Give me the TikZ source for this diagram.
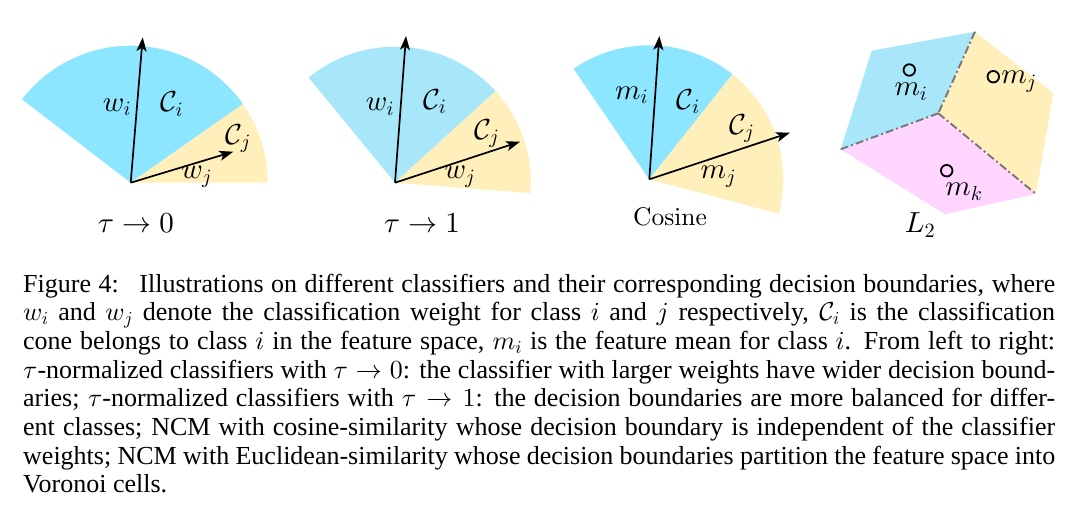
\documentclass[tikz,border=0pt]{standalone}
\usepackage{fontspec}
\DeclareFontShape{OML}{cmm}{m}{it}{<->cmmi10}{}
\DeclareFontShape{OMS}{cmsy}{m}{n}{<->cmsy10}{}
\DeclareFontShape{OT1}{cmr}{m}{n}{<->cmr10}{}
\newfontfamily\capfont{Liberation Serif}
\newcommand\cmten{\fontencoding{OT1}\fontfamily{cmr}\selectfont}
\usetikzlibrary{arrows.meta}
\definecolor{cyanA}{HTML}{8CE6FF}
\definecolor{cyanB}{HTML}{A8E6FA}
\definecolor{yel}{HTML}{FFEFBB}
\definecolor{pnk}{HTML}{FFD6FF}
\definecolor{bdry}{HTML}{777777}
\begin{document}
\begin{tikzpicture}[x=1pt,y=1pt,
 vec/.style={line width=1.7pt,-{Stealth[length=14pt,width=10pt,inset=3.5pt]}},
 lab/.style={font=\fontsize{29}{34}\selectfont, inner sep=0pt},
 capline/.style={anchor=base west, inner sep=0pt, text height=18pt, text depth=5pt, font=\capfont\fontsize{26}{30}\selectfont},
 bnd/.style={bdry, line width=1.9pt, dash pattern=on 8pt off 3pt on 2pt off 3pt},
 mean/.style={circle, draw, line width=1.8pt, minimum size=11.5pt, inner sep=0pt}]
\useasboundingbox (0,0) rectangle (1074,515);

% ---------- diagram 1: tau -> 0
\coordinate (o1) at (130.7,332.3);
\fill[cyanA] (o1) -- ++(142.5:137) arc[start angle=142.5,end angle=35,radius=137pt] -- cycle;
\fill[yel] (o1) -- ++(35:137) arc[start angle=35,end angle=0,radius=137pt] -- cycle;
\coordinate (wi1) at (142.7,477.7);
\coordinate (wj1) at (233.3,363.3);
\draw[vec] (o1) -- (wi1);
\draw[vec] (o1) -- (wj1);
\node[lab] (lwi1) at (117,408) {$w_i$};
\node[lab] (lci1) at (171.7,411) {$\mathcal{C}_i$};
\node[lab] (lcj1) at (238.3,376.7) {$\mathcal{C}_j$};
\node[lab] (lwj1) at (196.7,338.3) {$w_j$};
\node[lab] (t1) at (136,291.7) {$\tau\rightarrow 0$};

% ---------- diagram 2: tau -> 1
\coordinate (o2) at (395,332.3);
\fill[cyanB] (o2) -- ++(129.4:136) arc[start angle=129.4,end angle=42.3,radius=136pt] -- cycle;
\fill[yel] (o2) -- ++(42.3:136) arc[start angle=42.3,end angle=-4.4,radius=136pt] -- cycle;
\coordinate (wi2) at (406,479);
\coordinate (wj2) at (520,373.3);
\draw[vec] (o2) -- (wi2);
\draw[vec] (o2) -- (wj2);
\node[lab] (lwi2) at (380,408.3) {$w_i$};
\node[lab] (lci2) at (435,413.3) {$\mathcal{C}_i$};
\node[lab] (lcj2) at (486.7,381.7) {$\mathcal{C}_j$};
\node[lab] (lwj2) at (460,338.3) {$w_j$};
\node[lab] (t2) at (422,291.7) {$\tau\rightarrow 1$};

% ---------- diagram 3: cosine
\coordinate (o3) at (649.3,335.7);
\fill[cyanA] (o3) -- ++(124.4:134) arc[start angle=124.4,end angle=51.6,radius=134pt] -- cycle;
\fill[yel] (o3) -- ++(51.6:134) arc[start angle=51.6,end angle=-14.9,radius=134pt] -- cycle;
\coordinate (mi3) at (659.3,479);
\coordinate (mj3) at (790,382.3);
\draw[vec] (o3) -- (mi3);
\draw[vec] (o3) -- (mj3);
\node[lab] (lmi3) at (631.7,420) {$m_i$};
\node[lab] (lci3) at (688.3,413.3) {$\mathcal{C}_i$};
\node[lab] (lcj3) at (741.7,386.7) {$\mathcal{C}_j$};
\node[lab] (lmj3) at (718.3,338.3) {$m_j$};
\node[lab,font=\cmten\fontsize{25.5}{30}\selectfont] (t3) at (670,298.3) {Cosine};

% ---------- diagram 4: L2 Voronoi
\coordinate (A) at (871.7,464.3);
\coordinate (T) at (975,483.3);
\coordinate (O) at (938.3,401.7);
\coordinate (L) at (840.7,365.7);
\coordinate (R1) at (1053.3,421.7);
\coordinate (R2) at (1036,321);
\coordinate (B) at (945,300.7);
\fill[cyanB] (A) -- (T) -- (O) -- (L) -- cycle;
\fill[yel] (T) -- (R1) -- (R2) -- (O) -- cycle;
\fill[pnk] (O) -- (R2) -- (B) -- (L) -- cycle;
\draw[bnd] (T) -- (O);
\draw[bnd] (O) -- (L);
\draw[bnd] (O) -- (R2);
\node[mean] (ci) at (909.3,445) {};
\node[mean] (cj) at (993.3,438.3) {};
\node[mean] (ck) at (946.7,344.3) {};
\node[lab] (lmi4) at (911,423.3) {$m_i$};
\node[lab] (lmj4) at (1019,433.3) {$m_j$};
\node[lab] (lmk4) at (964,323.3) {$m_k$};
\node[lab] (t4) at (920,290) {$L_2$};

% ---------- caption
\node[capline] (cap1) at (23,222.7) {\makebox[1032pt][s]{Figure 4:\hspace{10pt} Illustrations on different classifiers and their corresponding decision boundaries, where}};
\node[capline] (cap2) at (23,194.05) {\makebox[1032pt][s]{$w_i$ and $w_j$ denote the classification weight for class $i$ and $j$ respectively, $\mathcal{C}_i$ is the classification}};
\node[capline] (cap3) at (23,165.4) {\makebox[1032pt][s]{cone belongs to class $i$ in the feature space, $m_i$ is the feature mean for class $i$. From left to right:}};
\node[capline] (cap4) at (23,136.75) {\makebox[1032pt][s]{$\tau$-normalized classifiers with $\tau\rightarrow 0$: the classifier with larger weights have wider decision bound-}};
\node[capline] (cap5) at (23,108.1) {\makebox[1032pt][s]{aries; $\tau$-normalized classifiers with $\tau\rightarrow 1$: the decision boundaries are more balanced for differ-}};
\node[capline] (cap6) at (23,79.45) {\makebox[1032pt][s]{ent classes; NCM with cosine-similarity whose decision boundary is independent of the classifier}};
\node[capline] (cap7) at (23,50.8) {\makebox[1032pt][s]{weights; NCM with Euclidean-similarity whose decision boundaries partition the feature space into}};
\node[capline] (cap8) at (23,22.15) {Voronoi cells.};
\end{tikzpicture}
\end{document}
